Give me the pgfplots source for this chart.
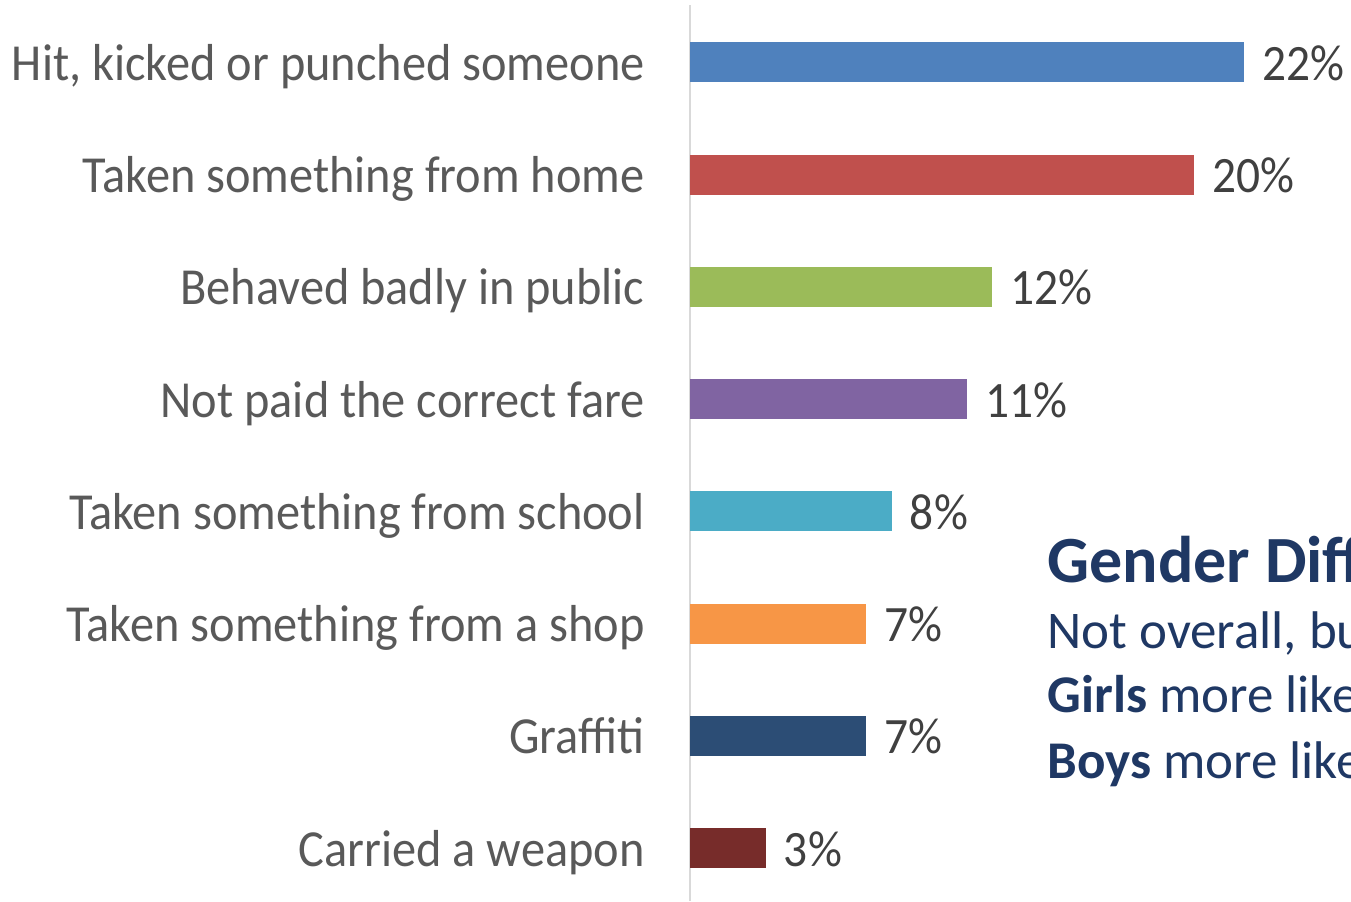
\documentclass[border=0pt]{standalone}
\usepackage{pgfplots}
\pgfplotsset{compat=1.18}
\usepackage{fontspec}
\setmainfont[FakeStretch=0.93]{Carlito}
\newfontfamily\gfont{Carlito}

\definecolor{cBlue}{HTML}{4F81BD}
\definecolor{cRed}{HTML}{C0504D}
\definecolor{cGreen}{HTML}{9BBB59}
\definecolor{cPurple}{HTML}{8064A2}
\definecolor{cTeal}{HTML}{4BACC6}
\definecolor{cOrange}{HTML}{F79646}
\definecolor{cNavy}{HTML}{2C4D75}
\definecolor{cMaroon}{HTML}{772C2A}
\definecolor{labelgray}{HTML}{595959}
\definecolor{valgray}{HTML}{404040}
\definecolor{textblue}{HTML}{1F3864}

\begin{document}
\begin{tikzpicture}
% page = 1351x901 px at 0.5pt per px, axis line at px 690
\path[use as bounding box, clip] (-345pt,0pt) rectangle (330.5pt,450.5pt);
\begin{axis}[
  at={(0pt,0pt)}, anchor=south west,
  scale only axis, width=330.5pt, height=448pt,
  xbar, bar width=20pt, bar shift=0pt,
  xmin=0, xmax=26.23, ymin=-0.47, ymax=7.51,
  enlargelimits=false, clip=false,
  axis x line=none, axis y line=left,
  y axis line style={-, draw=black!15, line width=1pt},
  major tick length=0pt,
  /pgf/number format/assume math mode=true,
  ytick={0,...,7},
  yticklabels={Carried a weapon, Graffiti, Taken something from a shop,
    Taken something from school, Not paid the correct fare,
    Behaved badly in public, Taken something from home,
    {Hit, kicked or punched someone}},
  yticklabel style={anchor=base east, inner sep=0pt, xshift=-22.5pt,
    yshift=-9pt, font=\fontsize{26}{30}\selectfont, text=labelgray},
  nodes near coords={\pgfmathprintnumber{\pgfplotspointmeta}\%},
  every node near coord/.append style={anchor=base west, inner sep=0pt,
    xshift=9pt, yshift=-9pt, font=\fontsize{25.5}{30}\selectfont,
    text=valgray},
]
\addplot[fill=cMaroon, draw=none] coordinates {(3,0)};
\addplot[fill=cNavy, draw=none] coordinates {(7,1)};
\addplot[fill=cOrange, draw=none] coordinates {(7,2)};
\addplot[fill=cTeal, draw=none] coordinates {(8,3)};
\addplot[fill=cPurple, draw=none] coordinates {(11,4)};
\addplot[fill=cGreen, draw=none] coordinates {(12,5)};
\addplot[fill=cRed, draw=none] coordinates {(20,6)};
\addplot[fill=cBlue, draw=none] coordinates {(22,7)};
\end{axis}
\begin{scope}[every node/.style={anchor=base west, inner sep=0pt, text=textblue}]
\node[font=\gfont\fontsize{33}{38}\selectfont\bfseries] at (178.5pt,159pt) {Gender Differences};
\node[font=\gfont\fontsize{26.5}{30}\selectfont] at (178.5pt,126pt) {Not overall, but};
\node[font=\gfont\fontsize{26.5}{30}\selectfont] at (178.5pt,94pt) {\textbf{Girls} more likely};
\node[font=\gfont\fontsize{26.5}{30}\selectfont] at (178.5pt,61.5pt) {\textbf{Boys} more likely};
\end{scope}
\end{tikzpicture}
\end{document}
